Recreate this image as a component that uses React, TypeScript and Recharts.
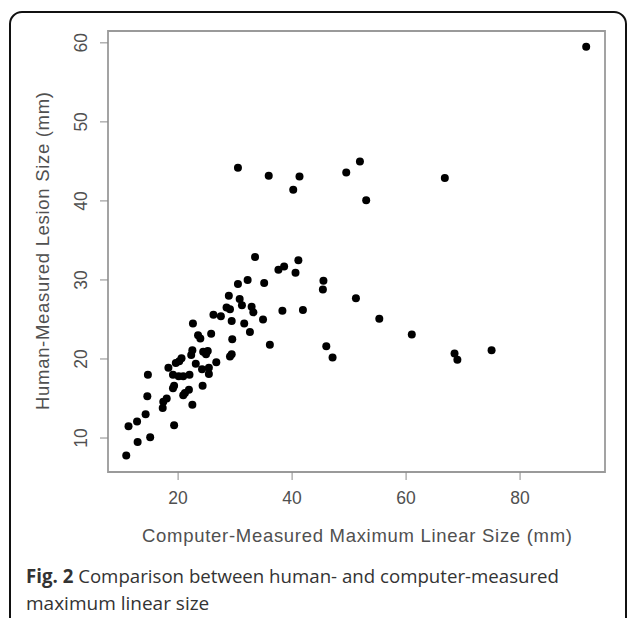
import { ScatterChart, Scatter, XAxis, YAxis, ReferenceArea } from "recharts";

const computerSize = [
  30.5, 35.9, 41.3, 40.2, 49.5, 51.9, 53.0, 66.8, 91.6,
  33.5, 37.6, 38.6, 41.1, 40.6, 32.2, 30.5, 35.1, 45.5, 45.4, 51.2, 28.9, 30.8,
  31.2, 28.5, 29.1, 32.9, 33.2, 38.3, 41.9, 26.2, 27.5, 55.3,
  29.4, 34.9, 22.6, 31.6, 32.6, 25.8, 23.5, 23.9, 29.5, 36.1, 46.0, 47.1, 22.5,
  22.3, 24.4, 25.2, 24.9, 20.6, 20.2, 29.4, 29.1, 26.7, 19.6, 23.1, 18.3, 24.2,
  25.4, 25.4, 14.7, 19.1, 20.1, 20.9, 22.0, 24.3, 19.3, 19.1, 21.9, 21.2, 20.9,
  14.6, 18.0, 17.4, 17.3, 22.5, 14.3, 12.8, 11.3, 19.3, 12.9, 15.1, 10.9,
  61.0, 68.5, 69.0, 75.0,
];

// human-measured lesion size (mm)
const humanSize = [
  44.2, 43.2, 43.1, 41.4, 43.6, 45.0, 40.1, 42.9, 59.5,
  32.9, 31.3, 31.7, 32.5, 30.9, 30.0, 29.5, 29.6, 29.9, 28.8, 27.7, 28.0, 27.6,
  26.8, 26.5, 26.3, 26.6, 25.9, 26.1, 26.2, 25.6, 25.4, 25.1,
  24.8, 25.0, 24.5, 24.5, 23.4, 23.2, 23.0, 22.6, 22.5, 21.8, 21.6, 20.2, 21.1,
  20.5, 20.9, 21.0, 20.6, 20.1, 19.7, 20.6, 20.3, 19.6, 19.5, 19.4, 18.9, 18.7,
  18.9, 18.1, 18.0, 18.0, 17.8, 17.8, 18.0, 16.6, 16.6, 16.3, 16.1, 15.7, 15.4,
  15.3, 15.0, 14.6, 13.8, 14.2, 13.0, 12.1, 11.5, 11.6, 9.5, 10.1, 7.8,
  23.1, 20.7, 19.9, 21.1,
];

const xTicks = [20, 40, 60, 80];
const yTicks = [10, 20, 30, 40, 50, 60];
const xDomain: [number, number] = [7.7, 94.9];
const yDomain: [number, number] = [5.7, 61.5];

const points = computerSize.map((x, i) => ({ x, y: humanSize[i] }));

const axisFont = "'Liberation Sans', Arial, sans-serif";
const axisGrey = "#505050";

const XTick = (props: any) => {
  const { x, y, payload } = props;
  return (
    <text x={x} y={y + 24} textAnchor="middle" fontFamily={axisFont} fontSize={17.5} fill={axisGrey}>
      {payload.value}
    </text>
  );
};

const YTick = (props: any) => {
  const { x, y, payload } = props;
  return (
    <text
      transform={`translate(${x - 13},${y}) rotate(-90)`}
      textAnchor="middle"
      fontFamily={axisFont}
      fontSize={17.5}
      fill={axisGrey}
    >
      {payload.value}
    </text>
  );
};

const Dot = (props: any) => <circle cx={props.cx} cy={props.cy} r={4} fill="#000" />;

export default function App() {
  return (
    <div style={{ position: "fixed", left: 0, top: 0, width: 627, height: 618, overflow: "hidden", background: "#fff" }}>
      <div
        style={{
          position: "absolute",
          left: 9,
          top: 11,
          width: 618,
          height: 700,
          border: "2px solid #111",
          borderRadius: 13,
          boxSizing: "border-box",
        }}
      />
      <div style={{ position: "absolute", left: 0, top: 0 }}>
        <ScatterChart width={627} height={520} margin={{ top: 31, right: 22, left: 48, bottom: 8 }}>
          <XAxis
            type="number"
            dataKey="x"
            domain={xDomain}
            ticks={xTicks}
            allowDataOverflow
            axisLine={false}
            tickLine={{ stroke: "#8a8a8a" }}
            tickSize={8}
            tickMargin={0}
            height={40}
            tick={<XTick />}
          />
          <YAxis
            type="number"
            dataKey="y"
            domain={yDomain}
            ticks={yTicks}
            allowDataOverflow
            axisLine={false}
            tickLine={{ stroke: "#8a8a8a" }}
            tickSize={8}
            tickMargin={0}
            width={60}
            tick={<YTick />}
          />
          <ReferenceArea
            x1={xDomain[0]}
            x2={xDomain[1]}
            y1={yDomain[0]}
            y2={yDomain[1]}
            fill="none"
            stroke="#9a9a9a"
            strokeWidth={1.8}
            ifOverflow="visible"
          />
          <Scatter data={points} shape={<Dot />} isAnimationActive={false} />
        </ScatterChart>
      </div>
      <svg width={627} height={618} style={{ position: "absolute", left: 0, top: 0, pointerEvents: "none" }}>
        <text
          x={357}
          y={542}
          textAnchor="middle"
          fontFamily={axisFont}
          fontSize={18.5}
          fill={axisGrey}
          textLength={430}
          lengthAdjust="spacing"
        >
          Computer-Measured Maximum Linear Size (mm)
        </text>
        <text
          transform="translate(49,251) rotate(-90)"
          textAnchor="middle"
          fontFamily={axisFont}
          fontSize={18.5}
          fill={axisGrey}
          textLength={318}
          lengthAdjust="spacing"
        >
          Human-Measured Lesion Size (mm)
        </text>
        <text
          x={26}
          y={583}
          fontFamily="'Open Sans', sans-serif"
          fontSize={19}
          fill="#333"
          textLength={533}
          lengthAdjust="spacingAndGlyphs"
        >
          <tspan fontWeight={700}>Fig. 2</tspan> Comparison between human- and computer-measured
        </text>
        <text x={26} y={610} fontFamily="'Open Sans', sans-serif" fontSize={19} fill="#333">
          maximum linear size
        </text>
      </svg>
    </div>
  );
}
